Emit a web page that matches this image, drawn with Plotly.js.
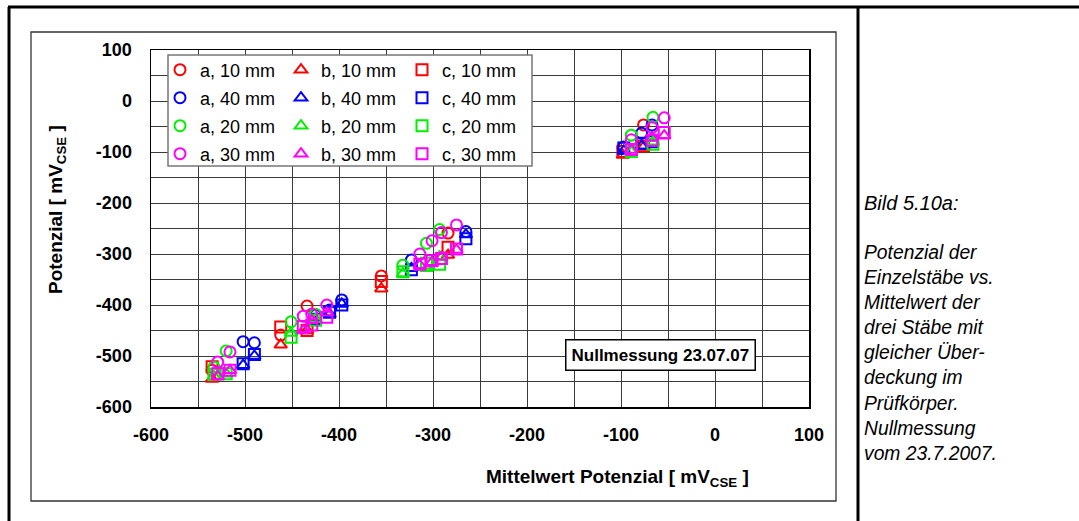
<!DOCTYPE html>
<html>
<head>
<meta charset="utf-8">
<script src="https://cdn.plot.ly/plotly-3.0.1.min.js"></script>
<style>
  html, body { margin: 0; padding: 0; background: #ffffff; }
  #chart { width: 1079px; height: 521px; }
</style>
</head>
<body>
<div id="chart"></div>
<script>
// ---- data ----
// x = Mittelwert Potenzial of the three bars a, b, c with the same cover depth
const x10 = [-535, -462, -434, -355, -284, -98, -76];
const a10 = [-528, -459, -402, -343, -259, -92, -47];
const b10 = [-545, -478, -450, -368, -302, -106, -90];
const c10 = [-521, -443, -450, -354, -287, -99, -88];

const x40 = [-502, -490, -425, -410, -397, -323, -265, -97, -78, -67];
const a40 = [-472, -474, -420, -410, -390, -312, -256, -90, -63, -47];
const b40 = [-518, -500, -432, -418, -398, -328, -262, -98, -88, -72];
const c40 = [-515, -497, -428, -414, -400, -331, -270, -92, -83, -80];

const x20 = [-533, -520, -451, -425, -332, -307, -293, -89, -66];
const a20 = [-522, -490, -433, -418, -322, -279, -252, -67, -32];
const b20 = [-540, -535, -455, -428, -338, -328, -305, -100, -80];
const c20 = [-536, -535, -463, -430, -335, -318, -320, -99, -85];

const x30 = [-529, -516, -438, -429, -413, -314, -301, -291, -275, -89, -67, -54];
const a30 = [-512, -492, -422, -418, -400, -300, -274, -258, -243, -76, -52, -33];
const b30 = [-540, -528, -450, -430, -415, -322, -316, -306, -292, -96, -72, -68];
const c30 = [-535, -528, -442, -439, -424, -320, -313, -309, -290, -95, -77, -62];

const xTickVals = [-600, -500, -400, -300, -200, -100, 0, 100];
const xTickText = ['-600', '-500', '-400', '-300', '-200', '-100', '0', '100'];
const yTickVals = [-600, -500, -400, -300, -200, -100, 0, 100];
const yTickText = ['-600', '-500', '-400', '-300', '-200', '-100', '0', '100'];

const depths = [
  {label: '10 mm', color: '#ff0000', x: x10, a: a10, b: b10, c: c10, legend: 'legend'},
  {label: '40 mm', color: '#0000ff', x: x40, a: a40, b: b40, c: c40, legend: 'legend2'},
  {label: '20 mm', color: '#00f000', x: x20, a: a20, b: b20, c: c20, legend: 'legend3'},
  {label: '30 mm', color: '#ff00ff', x: x30, a: a30, b: b30, c: c30, legend: 'legend4'}
];
const bars = [
  {key: 'a', symbol: 'circle-open'},
  {key: 'b', symbol: 'triangle-up-open'},
  {key: 'c', symbol: 'square-open'}
];

const FONT = 'Arial, "Liberation Sans", sans-serif';

const traces = [];
depths.forEach(d => {
  bars.forEach(bar => {
    traces.push({
      type: 'scatter',
      mode: 'markers',
      name: bar.key + ', ' + d.label,
      x: d.x,
      y: d[bar.key],
      legend: d.legend,
      marker: {symbol: bar.symbol, size: 11, color: d.color, line: {color: d.color, width: 2}},
      cliponaxis: false
    });
  });
});

// pixel helpers (plot area: x 151..809, y 50..407)
const L = 151, R = 809, T = 50, B = 407;
const px = v => (v - L) / (R - L);
const py = v => (B - v) / (B - T);

function legendRow(rowY) {
  return {
    x: px(160), y: py(rowY), xanchor: 'left', yanchor: 'middle',
    orientation: 'h', entrywidth: 76, entrywidthmode: 'pixels',
    itemwidth: 30, traceorder: 'normal',
    bgcolor: 'rgba(0,0,0,0)', borderwidth: 0,
    font: {family: FONT, size: 18, color: '#000'}
  };
}

const layout = {
  width: 1079, height: 521,
  margin: {l: L, r: 1079 - R, t: T, b: 521 - B, pad: 0},
  paper_bgcolor: '#ffffff', plot_bgcolor: '#ffffff',
  font: {family: FONT, color: '#000'},
  showlegend: true,
  legend: legendRow(70),
  legend2: legendRow(98),
  legend3: legendRow(126),
  legend4: legendRow(154),
  xaxis: {
    range: [-600, 100], tickvals: xTickVals, ticktext: xTickText, ticks: '', showgrid: true,
    gridcolor: '#3a3a3a', gridwidth: 1, zeroline: false,
    minor: {dtick: 50, tick0: 0, showgrid: true, gridcolor: '#3a3a3a', gridwidth: 1},
    showline: true, mirror: true, linecolor: '#000', linewidth: 1.5,
    tickfont: {family: FONT, size: 18, color: '#000', weight: 'bold'},
    ticklabelstandoff: 11, fixedrange: true
  },
  yaxis: {
    range: [-600, 100], tickvals: yTickVals, ticktext: yTickText, ticks: '', showgrid: true,
    gridcolor: '#3a3a3a', gridwidth: 1, zeroline: false,
    minor: {dtick: 50, tick0: 0, showgrid: true, gridcolor: '#3a3a3a', gridwidth: 1},
    showline: true, mirror: true, linecolor: '#000', linewidth: 1.5,
    tickfont: {family: FONT, size: 18, color: '#000', weight: 'bold'},
    ticklabelstandoff: 14, fixedrange: true
  },
  shapes: [
    // outer frame
    {type: 'line', xref: 'paper', yref: 'paper', x0: px(8), x1: px(1079), y0: py(7), y1: py(7), line: {color: '#000', width: 3}},
    {type: 'line', xref: 'paper', yref: 'paper', x0: px(9), x1: px(9), y0: py(7), y1: py(521), line: {color: '#000', width: 3}},
    {type: 'line', xref: 'paper', yref: 'paper', x0: px(858), x1: px(858), y0: py(7), y1: py(521), line: {color: '#000', width: 3}},
    // chart frame
    {type: 'rect', xref: 'paper', yref: 'paper', x0: px(31), x1: px(836), y0: py(32), y1: py(501), line: {color: '#333', width: 1.3}, layer: 'below'},
    // legend box
    {type: 'rect', xref: 'paper', yref: 'paper', x0: px(168), x1: px(532), y0: py(55), y1: py(166), line: {color: '#777', width: 1.5}, fillcolor: '#ffffff', layer: 'above'}
  ],
  annotations: [
    {xref: 'paper', yref: 'paper', x: px(617), y: py(478), xanchor: 'center', yanchor: 'middle', showarrow: false,
     text: 'Mittelwert Potenzial [ mV<sub>CSE</sub> ]', font: {family: FONT, size: 19, color: '#000', weight: 'bold'}},
    {xref: 'paper', yref: 'paper', x: px(57), y: py(210), xanchor: 'center', yanchor: 'middle', showarrow: false, textangle: -90,
     text: 'Potenzial [ mV<sub>CSE</sub> ]', font: {family: FONT, size: 19, color: '#000', weight: 'bold'}},
    {xref: 'paper', yref: 'paper', x: px(660), y: py(355), xanchor: 'center', yanchor: 'middle', showarrow: false,
     text: 'Nullmessung 23.07.07', font: {family: FONT, size: 17, color: '#000', weight: 'bold'},
     bgcolor: '#ffffff', bordercolor: '#000', borderwidth: 1.5, borderpad: 5},
    {xref: 'paper', yref: 'paper', x: px(862), y: py(203), xanchor: 'left', yanchor: 'middle', showarrow: false, align: 'left',
     text: 'Bild 5.10a:', font: {family: FONT, size: 20, color: '#000', style: 'italic'}},
    {xref: 'paper', yref: 'paper', x: px(862), y: py(240), xanchor: 'left', yanchor: 'top', showarrow: false, align: 'left',
     text: 'Potenzial der<br>Einzelstäbe vs.<br>Mittelwert der<br>drei Stäbe mit<br>gleicher Über-<br>deckung im<br>Prüfkörper.<br>Nullmessung<br>vom 23.7.2007.',
     font: {family: FONT, size: 19.3, color: '#000', style: 'italic'}}
  ]
};

Plotly.newPlot('chart', traces, layout, {staticPlot: true, displayModeBar: false});
</script>
</body>
</html>
